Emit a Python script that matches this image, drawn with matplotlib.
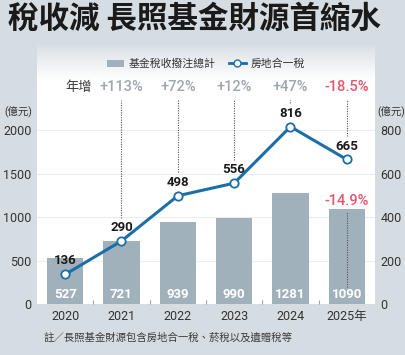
import matplotlib
matplotlib.use("Agg")
import matplotlib.pyplot as plt
import numpy as np
from matplotlib.lines import Line2D
from matplotlib.patches import Patch

plt.rcParams["font.family"] = ["Roboto", "Noto Sans CJK TC", "DejaVu Sans"]

YEARS = ["2020", "2021", "2022", "2023", "2024", "2025年"]
FUND_TOTAL = [527, 721, 939, 990, 1281, 1090]
HOUSE_TAX = [136, 290, 498, 556, 816, 665]
GROWTH = ["", "+113%", "+72%", "+12%", "+47%", "-18.5%"]
FUND_CHANGE_2025 = "-14.9%"

BG = "#d5dde3"
BAR_COLOR = "#a1b1bc"
LINE_COLOR = "#1b6ea6"
RED = "#e4566c"
GREY_TXT = "#9ea7ad"
RATIO = 2.5  # left axis / right axis

fig = plt.figure(figsize=(4.06, 3.55), dpi=100, facecolor=BG)
ax = fig.add_axes([0.0911, 0.1437, 0.8325, 0.7296])
ax.set_facecolor("white")

# panel gradient: background colour at the top fading into white
bg_rgb = np.array(matplotlib.colors.to_rgb(BG))
t = np.linspace(0, 1, 200)
w = np.clip(t / 0.14, 0, 1) ** 0.8
grad = bg_rgb[None, :] * (1 - w[:, None]) + np.ones(3)[None, :] * w[:, None]
ax.imshow(grad[:, None, :], extent=(0, 1, 0, 1), transform=ax.transAxes,
          aspect="auto", zorder=0)

x = np.arange(len(YEARS))
ymax = 2980
ax.set_xlim(-0.5, len(YEARS) - 0.5)
ax.set_ylim(0, ymax)

for v in [500, 1000, 1500, 2000]:
    ax.axhline(v, color="#e9edf0", linewidth=0.8, zorder=1)

ax.bar(x, FUND_TOTAL, width=0.64, color=BAR_COLOR, zorder=2)
for xi, v in zip(x, FUND_TOTAL):
    ax.text(xi, 40, str(v), ha="center", va="bottom", color="white",
            fontsize=9.5, fontweight="bold", zorder=5)

line_y = np.array(HOUSE_TAX) * RATIO
ax.plot(x, line_y, color=LINE_COLOR, linewidth=2.2, zorder=3)
ax.plot(x, line_y, linestyle="none", marker="o", markersize=6,
        markerfacecolor="white", markeredgecolor=LINE_COLOR,
        markeredgewidth=1.3, zorder=4)
for xi, yv, v in zip(x, line_y, HOUSE_TAX):
    ax.annotate(str(v), (xi, yv), xytext=(0, 5), textcoords="offset points",
                ha="center", va="bottom", fontsize=9.5, fontweight="bold",
                color="#1a1a1a", zorder=5)

# dotted leader lines from growth labels to points
top_level = 2345
for xi, yv, g in zip(x, line_y, GROWTH):
    if not g:
        continue
    ax.plot([xi, xi], [yv + 270, top_level], linestyle=(0, (1, 1.2)),
            color="#555555", linewidth=0.8, zorder=3)
    ax.text(xi, 2495, g, ha="center", va="center", fontsize=10.5,
            fontweight="medium",
            color=RED if g.startswith("-") else GREY_TXT, zorder=5)
ax.text(0.24, 2495, "年增", ha="center", va="center", fontsize=9.5,
        color="#3a3a3a")

# 2025 fund change
ax.plot([x[-1], x[-1]], [190, FUND_TOTAL[-1] - 35], linestyle=(0, (1, 1.2)),
        color="#555555", linewidth=0.8, zorder=3)
ax.annotate(FUND_CHANGE_2025, (x[-1], FUND_TOTAL[-1]), xytext=(0, 1),
            textcoords="offset points", ha="center", va="bottom",
            fontsize=10.5, fontweight="medium", color=RED, zorder=5)

for s in ax.spines.values():
    s.set_visible(False)

ax.set_yticks([0, 500, 1000, 1500, 2000])
ax.tick_params(axis="y", length=0, labelsize=9, labelcolor="#333333", pad=4)
ax.set_xticks(x)
ax.set_xticklabels(YEARS)
ax.set_xticks(x[:-1] + 0.5, minor=True)
ax.tick_params(axis="x", which="major", length=0, labelsize=9,
               labelcolor="#333333", pad=4)
ax.tick_params(axis="x", which="minor", length=3, direction="in",
               color="#9aa3a9", width=0.8)

ax2 = ax.twinx()
ax2.set_ylim(0, ymax / RATIO)
ax2.set_yticks([0, 200, 400, 600, 800])
ax2.tick_params(axis="y", length=0, labelsize=9, labelcolor="#333333", pad=4)
for s in ax2.spines.values():
    s.set_visible(False)

fig.text(0.01, 0.685, "(億元)", fontsize=7.5, color="#333333", va="center")
fig.text(0.997, 0.685, "(億元)", fontsize=7.5, color="#333333", va="center",
         ha="right")

handles = [Patch(facecolor=BAR_COLOR, edgecolor="none"),
           Line2D([0], [0], color=LINE_COLOR, linewidth=2, marker="o",
                  markersize=5, markerfacecolor="white",
                  markeredgecolor=LINE_COLOR)]
ax.legend(handles, ["基金稅收撥注總計", "房地合一稅"], loc="center",
          bbox_to_anchor=(0.5, 0.927), ncol=2, frameon=False, fontsize=7.8,
          handlelength=1.6, handletextpad=0.4, columnspacing=1.2,
          labelcolor="#333333")

fig.text(0.02, 0.948, "稅收減 長照基金財源首縮水", fontsize=22,
         fontweight="bold", color="#1a1a1a", va="center",
         family=["Noto Sans CJK TC"])
fig.text(0.106, 0.05, "註／長照基金財源包含房地合一稅、菸稅以及遺贈稅等",
         fontsize=7.5, color="#3a3a3a", va="center",
         family=["Noto Sans CJK TC"])

fig.savefig("out.png", dpi=100, facecolor=BG)
